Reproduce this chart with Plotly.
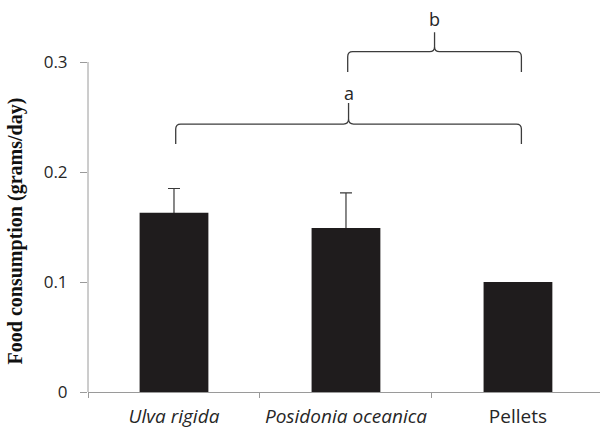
import plotly.graph_objects as go

# Mean daily food consumption per diet, with standard error
diets = ["Ulva rigida", "Posidonia oceanica", "Pellets"]
diet_labels = ["<i>Ulva rigida</i>", "<i>Posidonia oceanica</i>", "Pellets"]
consumption = [0.163, 0.149, 0.100]
errors = [0.022, 0.032, 0.0]

# Significance groups: (first diet, last diet, letter)
groups = [("Ulva rigida", "Pellets", "a"), ("Posidonia oceanica", "Pellets", "b")]
y_ticks = [0, 0.1, 0.2, 0.3]
y_tick_text = ["0", "0.1", "0.2", "0.3"]

# brace geometry on the value axis: horizontal, end, tip, letter
brace_levels = [(0.2436, 0.2255, 0.2627, 0.272), (0.3094, 0.291, 0.327, 0.339)]

X_RANGE = [-0.5, 2.477]
Y_RANGE = [0, 0.35]
PX_X = 512 / (X_RANGE[1] - X_RANGE[0])
PX_Y = 385 / (Y_RANGE[1] - Y_RANGE[0])

AXIS_GREY = "#9a9a9a"
INK = "#262626"

fig = go.Figure()

# error bars, only where an error was measured; drawn on the base axes so
# the bars (on the overlaid axes) hide the lower half of each bar
err_x = [d for d, e in zip(diets, errors) if e > 0]
err_y = [v for v, e in zip(consumption, errors) if e > 0]
err_v = [e for e in errors if e > 0]
fig.add_trace(go.Scatter(
    x=err_x, y=err_y, mode="markers",
    marker=dict(size=0, opacity=0),
    error_y=dict(type="data", array=err_v, visible=True,
                 color="#3a3a3a", thickness=1.2, width=6),
    showlegend=False, hoverinfo="skip",
))

fig.add_trace(go.Bar(
    x=diets,
    y=consumption,
    yaxis="y2",
    width=0.4,
    marker=dict(color="#1f1c1d", line=dict(width=0)),
    showlegend=False,
    hoverinfo="x+y",
))


def brace_path(xa, xb, yh, ye, yt):
    rx = 5 / PX_X
    ry = 5 / PX_Y
    xm = (xa + xb) / 2
    return (
        f"M {xa},{ye} L {xa},{yh - ry} Q {xa},{yh} {xa + rx},{yh} "
        f"L {xm - rx},{yh} Q {xm},{yh} {xm},{yh + ry} L {xm},{yt} "
        f"M {xm},{yh + ry} Q {xm},{yh} {xm + rx},{yh} "
        f"L {xb - rx},{yh} Q {xb},{yh} {xb},{yh - ry} L {xb},{ye}"
    )


shapes = [
    # value axis line, drawn only up to the last tick
    dict(type="line", xref="paper", yref="y", x0=0, x1=0, y0=0, y1=0.3,
         line=dict(color=AXIS_GREY, width=1)),
]
annotations = []
for (first, last, letter), (yh, ye, yt, ylab) in zip(groups, brace_levels):
    xa = diets.index(first) + 0.01
    xb = diets.index(last) + 0.02
    shapes.append(dict(type="path", xref="x", yref="y",
                       path=brace_path(xa, xb, yh, ye, yt),
                       line=dict(color="#3c3c3c", width=1.3)))
    annotations.append(dict(x=(xa + xb) / 2, y=ylab, xref="x", yref="y",
                            text=letter, showarrow=False,
                            font=dict(family="Open Sans", size=18, color=INK)))

annotations.append(dict(
    x=-73 / 512, xref="paper", xanchor="center", y=0.146, yref="y",
    text="<b>Food consumption (grams/day)</b>", textangle=-90, showarrow=False,
    font=dict(family="Liberation Serif", size=20, color="#111111"),
))

fig.update_layout(
    width=600, height=431,
    margin=dict(l=88, r=0, t=7, b=39, autoexpand=False),
    paper_bgcolor="white", plot_bgcolor="white",
    shapes=shapes, annotations=annotations,
    yaxis2=dict(overlaying="y", range=Y_RANGE, visible=False,
                showgrid=False, zeroline=False),
)
fig.update_xaxes(
    type="category", range=X_RANGE, automargin=False,
    categoryorder="array", categoryarray=diets,
    tickvals=diets, ticktext=diet_labels, tickson="boundaries",
    showline=True, linecolor=AXIS_GREY, linewidth=1,
    ticks="outside", ticklen=5, tickcolor=AXIS_GREY, tickwidth=1,
    showgrid=False, zeroline=False,
    tickfont=dict(family="Open Sans", size=19, color=INK),
    ticklabelstandoff=7,
)
fig.update_layout(yaxis=dict(
    range=Y_RANGE, tickvals=y_ticks, ticktext=y_tick_text, automargin=False,
    showline=False, showgrid=False, zeroline=False,
    ticks="outside", ticklen=7, tickcolor=AXIS_GREY, tickwidth=1,
    tickfont=dict(family="Open Sans", size=17, color=INK),
    ticklabelstandoff=9,
))

fig.write_html("out.html")
